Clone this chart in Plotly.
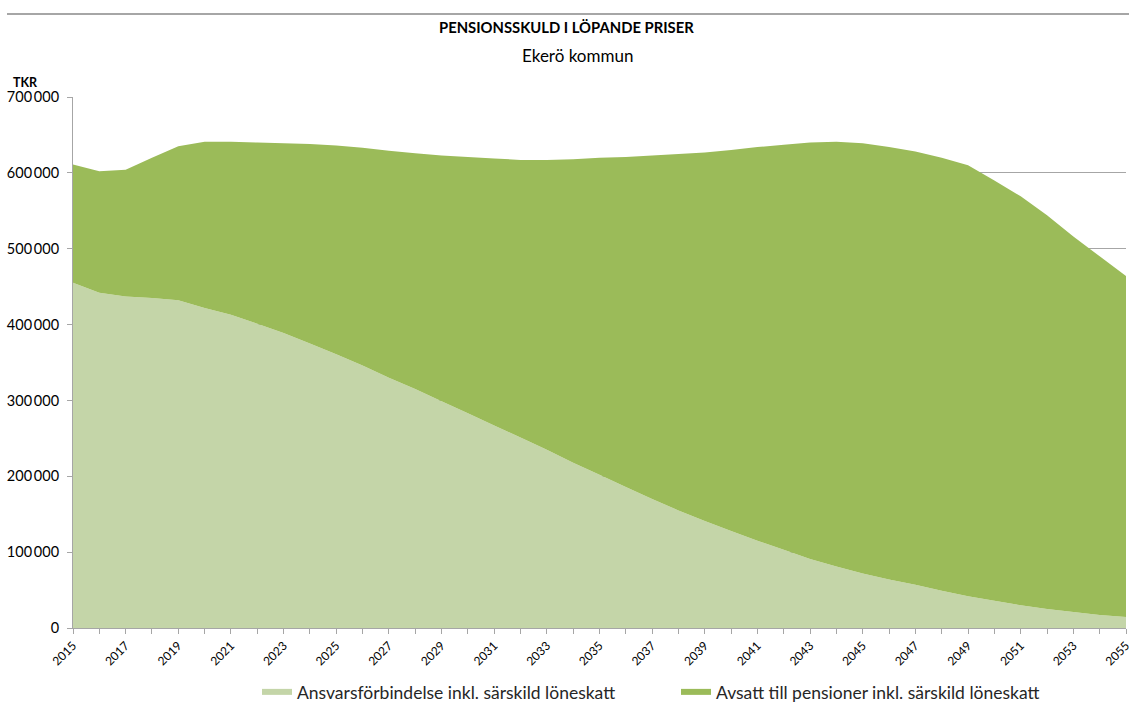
import plotly.graph_objects as go

years = list(range(2015, 2056))
ansvar = [455000, 442000, 437000, 435000, 432000, 422000, 413000, 401000, 389000, 375000,
          361000, 346000, 330000, 315000, 299000, 283000, 267000, 251000, 235000, 218000,
          202000, 186000, 170000, 155000, 141000, 128000, 115000, 103000, 91000, 81000,
          72000, 64000, 57000, 49000, 42000, 36000, 30000, 25000, 21000, 17000, 14500]
total = [611000, 602000, 604000, 620000, 635000, 641000, 641000, 640000, 639000, 638000,
         636000, 633000, 629000, 626000, 623000, 621000, 619000, 617000, 617000, 618000,
         620000, 621000, 623000, 625000, 627000, 630000, 634000, 637000, 640000, 641000,
         639000, 634000, 628000, 620000, 610000, 590000, 569000, 544000, 516000, 490000, 464000]
avsatt = [t - a for t, a in zip(total, ansvar)]

name_a = "Ansvarsförbindelse inkl. särskild löneskatt"
name_b = "Avsatt till pensioner inkl. särskild löneskatt"
ytick_vals = list(range(0, 700001, 100000))
ytick_text = ["0"] + [f"{v // 1000}\u2009000" for v in ytick_vals[1:]]
xtick_vals = list(range(2015, 2056, 2))

font_family = "Lato, 'Open Sans', sans-serif"

W, H = 1129, 702
L, R, T, B = 73, 3, 97, 74
pw, ph = W - L - R, H - T - B


def px(x):
    return (x - L) / pw


def py(y):
    return (H - B - y) / ph


fig = go.Figure()
fig.add_trace(go.Scatter(x=years, y=ansvar, name=name_a, stackgroup="one", mode="none",
                         fillcolor="#C4D5A8", hoverinfo="x+y"))
fig.add_trace(go.Scatter(x=years, y=avsatt, name=name_b, stackgroup="one", mode="none",
                         fillcolor="#9BBB59", hoverinfo="x+y"))

fig.update_layout(
    width=W, height=H,
    margin=dict(l=L, r=R, t=T, b=B, autoexpand=False),
    paper_bgcolor="white", plot_bgcolor="white",
    font=dict(family=font_family, color="#000000"),
    showlegend=True,
    legend=dict(orientation="h", x=px(257), xanchor="left", y=py(674), yanchor="top",
                entrywidth=374, entrywidthmode="pixels",
                font=dict(size=17.5, color="#262626"), traceorder="normal"),
    xaxis=dict(range=[2015, 2055], tickvals=xtick_vals, tickangle=-45,
               showgrid=False, showline=True, linecolor="#A6A6A6", linewidth=1,
               ticks="outside", ticklen=5, tickcolor="#A6A6A6",
               tickfont=dict(size=12, color="#000000"), automargin=False,
               ticklabeloverflow="allow",
               minor=dict(dtick=1, tick0=2015, ticks="outside", ticklen=5, tickcolor="#A6A6A6"),
               zeroline=False, fixedrange=True),
    yaxis=dict(range=[0, 700000], tickvals=ytick_vals, ticktext=ytick_text,
               showgrid=True, gridcolor="#A6A6A6", gridwidth=1,
               showline=True, linecolor="#A6A6A6", linewidth=1,
               ticks="outside", ticklen=5, tickcolor="#A6A6A6",
               tickfont=dict(size=14.5, color="#000000"), automargin=False,
               ticklabelstandoff=5,
               zeroline=False, fixedrange=True),
    annotations=[
        dict(text="<b>PENSIONSSKULD I LÖPANDE PRISER</b>", xref="paper", yref="paper",
             x=px(566), y=py(27), xanchor="center", yanchor="middle",
             showarrow=False, font=dict(size=14.8)),
        dict(text="Ekerö kommun", xref="paper", yref="paper",
             x=px(577), y=py(55), xanchor="center", yanchor="middle",
             showarrow=False, font=dict(size=17)),
        dict(text="<b>TKR</b>", xref="paper", yref="paper",
             x=px(11), y=py(83), xanchor="left", yanchor="middle",
             showarrow=False, font=dict(size=12.5)),
    ],
    shapes=[
        dict(type="line", xref="paper", yref="paper", x0=px(7), x1=px(1129),
             y0=py(14), y1=py(14), line=dict(color="#A6A6A6", width=2)),
    ],
)

fig.write_html("out.html", config={"displayModeBar": False},
               post_script="document.body.style.margin='0px';document.body.style.overflow='hidden';")
